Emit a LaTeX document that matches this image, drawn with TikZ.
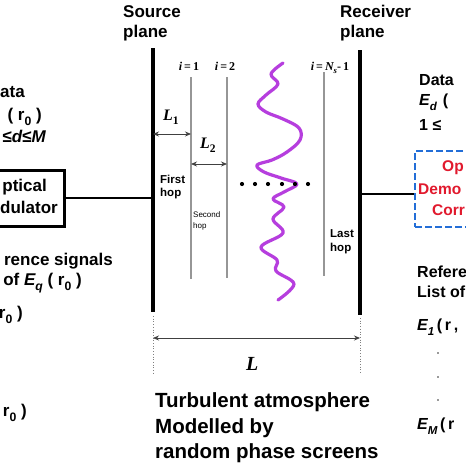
\documentclass[tikz,border=0pt]{standalone}
\usepackage{fontspec}
\setmainfont{Liberation Sans}
\newfontfamily\tnr{Liberation Serif}
\usetikzlibrary{arrows.meta}
\definecolor{wavepurple}{RGB}{182,62,222}
\definecolor{boxblue}{RGB}{35,110,215}
\definecolor{boxred}{RGB}{225,25,45}
\definecolor{screengray}{RGB}{150,150,150}
\newcommand\dn[1]{\raisebox{-0.6ex}{\scalebox{0.72}{#1}}}
\newcommand\EE[1]{{\itshape E}\dn{\itshape #1}}
\begin{document}
\begin{tikzpicture}[x=1pt,y=-1pt,
  lbl/.style={inner sep=0pt, font=\fontsize{17}{20}\selectfont\bfseries},
  rlbl/.style={inner sep=0pt, font=\fontsize{16}{19}\selectfont\bfseries},
  bigtxt/.style={inner sep=0pt, font=\fontsize{20.5}{24}\selectfont\bfseries},
  hoptxt/.style={inner sep=0pt, font=\fontsize{11.5}{14}\selectfont\bfseries},
  tinytxt/.style={inner sep=0pt, font=\fontsize{8}{10}\selectfont},
  redtxt/.style={inner sep=0pt, font=\fontsize{15.5}{18}\selectfont\bfseries, text=boxred},
  scrlbl/.style={inner sep=0pt, font=\tnr\fontsize{12}{14}\selectfont\bfseries},
  dimlbl/.style={inner sep=0pt, font=\tnr\fontsize{16}{18}\selectfont\bfseries\itshape},
  plane/.style={line width=3.2pt},
  screen/.style={draw=screengray, line width=1.2pt},
  guide/.style={draw=gray, line width=0.7pt, dotted},
  dimarrow/.style={{Stealth[length=6pt,width=5pt]}-{Stealth[length=6pt,width=5pt]}, line width=0.8pt, draw=black!75},
  link/.style={line width=1.6pt},
  wave/.style={draw=wavepurple, line width=3.2pt, line cap=round, line join=round},
  hdot/.style={circle, fill=black, inner sep=0pt, minimum size=4.2pt},
  vdot/.style={circle, fill=black!80, inner sep=0pt, minimum size=1.8pt},
]
\useasboundingbox (0,0) rectangle (466,466);
\clip (0,0) rectangle (466,466);
\fill[white] (0,0) rectangle (466,466);

% planes
\coordinate (srcT) at (153,48);
\coordinate (srcB) at (153,312);
\coordinate (rcvT) at (360,50);
\coordinate (rcvB) at (360,315);
\draw[plane] (srcT) -- (srcB);
\draw[plane] (rcvT) -- (rcvB);
\node[lbl, anchor=base west] (srcA) at (123,17) {Source};
\node[lbl, anchor=base west] (srcP) at (123,37) {plane};
\node[lbl, anchor=base west] (rcvA) at (340,17) {Receiver};
\node[lbl, anchor=base west] (rcvP) at (340,37) {plane};

% guides and total length
\coordinate (gsT) at (153,316);
\coordinate (gsB) at (153,374);
\coordinate (grT) at (360,318);
\coordinate (grB) at (360,374);
\draw[guide] (gsT) -- (gsB);
\draw[guide] (grT) -- (grB);
\coordinate (Ls) at (153,338);
\coordinate (Lr) at (360,338);
\draw[dimarrow] (Ls) -- (Lr);
\node[dimlbl, font=\tnr\fontsize{20}{22}\selectfont\bfseries\itshape, anchor=base west] (Llab) at (246,370) {L};

% phase screens
\coordinate (s1T) at (191,77);
\coordinate (s1B) at (191,279);
\coordinate (s2T) at (227,77);
\coordinate (s2B) at (227,278);
\coordinate (s3T) at (324,72);
\coordinate (s3B) at (324,276);
\draw[screen] (s1T) -- (s1B);
\draw[screen] (s2T) -- (s2B);
\draw[screen] (s3T) -- (s3B);
\node[scrlbl, anchor=base] (i1) at (189,70) {{\itshape i}\,=\,1};
\node[scrlbl, anchor=base] (i2) at (225,70) {{\itshape i}\,=\,2};
\node[scrlbl, anchor=base] (i3) at (330,70) {{\itshape i}\,=\,{\itshape N}\dn{\itshape s}-\,1};

% hop lengths
\coordinate (l1a) at (153,134);
\coordinate (l1b) at (191,134);
\coordinate (l2a) at (191,164);
\coordinate (l2b) at (227,164);
\draw[dimarrow] (l1a) -- (l1b);
\draw[dimarrow] (l2a) -- (l2b);
\node[dimlbl, anchor=base west] (L1) at (163,120) {L\dn{\upshape 1}};
\node[dimlbl, anchor=base west] (L2) at (200,148) {L\dn{\upshape 2}};

% hop labels
\node[hoptxt, anchor=base west] (h1a) at (160,183) {First};
\node[hoptxt, anchor=base west] (h1b) at (160,196) {hop};
\node[tinytxt, anchor=base west] (h2a) at (193,217) {Second};
\node[tinytxt, anchor=base west] (h2b) at (193,228) {hop};
\node[hoptxt, anchor=base west] (h3a) at (330,237) {Last};
\node[hoptxt, anchor=base west] (h3b) at (330,251) {hop};

% turbulence
\draw[wave] plot[smooth, tension=0.6] coordinates {
  (283,63) (271,74) (278,84) (266,95) (258,104) (266,112) (283,119) (299,128)
  (300,140) (287,152) (272,160) (257,165) (264,172) (281,178) (297,184)
  (284,192) (273,199) (284,207) (273,219) (283,233) (261,247) (277,260)
  (276,271) (294,284) (278,300)};
\foreach \xx/\nn in {242/a,255/b,268/c,282/d,295/e,308/f}
  \node[hdot] (d\nn) at (\xx,184) {};

% transmitter side (cropped at the left edge)
\node[draw, line width=3pt, minimum width=90pt, minimum height=56pt, inner sep=0pt] (mod) at (19,198) {};
\node[lbl, anchor=base east] (modA) at (47,191) {ptical};
\node[lbl, anchor=base east] (modB) at (58,213) {dulator};
\draw[link] (mod.east) -- (mod.east -| srcT);
\node[lbl, anchor=base east] (tdA) at (25,97) {ata};
\node[lbl, anchor=base east] (tdB) at (42,120) {( r\dn{0} )};
\node[lbl, anchor=base east] (tdC) at (46,142) {≤{\itshape d}≤{\itshape M}};
\node[lbl, anchor=base east] (trA) at (113,265) {rence signals};
\node[lbl, anchor=base east] (trB) at (82,285) {of \EE{q} ( r\dn{0} )};
\node[lbl, anchor=base east] (trC) at (23,318) {r\dn{0} )};
\node[lbl, anchor=base east] (trD) at (27,416) {r\dn{0} )};

% receiver side (cropped at the right edge)
\node[draw=boxblue, dash pattern=on 7pt off 3pt, line width=2.4pt, minimum width=106pt, minimum height=76pt, inner sep=0pt] (demod) at (468,189) {};
\node[redtxt, anchor=base west] (dmA) at (442,171) {Op};
\node[redtxt, anchor=base west] (dmB) at (418,194) {Demo};
\node[redtxt, anchor=base west] (dmC) at (432,215) {Corr};
\coordinate (rport) at (360,194);
\draw[link] (rport) -- (rport -| demod.west);
\node[rlbl, anchor=base west] (rdA) at (419,85) {Data};
\node[rlbl, anchor=base west] (rdB) at (419,105) {\EE{d}\hspace{6pt}(};
\node[rlbl, anchor=base west] (rdC) at (419,130) {1 ≤};
\node[rlbl, anchor=base west] (rrA) at (417,277) {Refere};
\node[rlbl, anchor=base west] (rrB) at (417,297) {List of};
\node[rlbl, anchor=base west] (rrC) at (417,330) {\EE{1}\,(\,r\,,};
\node[vdot] (v1) at (438,353) {};
\node[vdot] (v2) at (438,377) {};
\node[vdot] (v3) at (438,400) {};
\node[rlbl, anchor=base west] (rrD) at (417,429) {\EE{M}\,(\,r};

% bottom caption
\node[bigtxt, anchor=base west] (capA) at (155,407) {Turbulent atmosphere};
\node[bigtxt, anchor=base west] (capB) at (155,433) {Modelled by};
\node[bigtxt, anchor=base west] (capC) at (155,458) {random phase screens};
\end{tikzpicture}
\end{document}
